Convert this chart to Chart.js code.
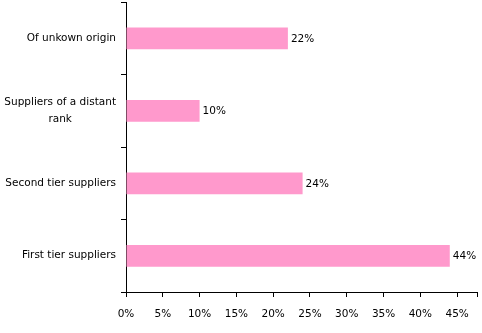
<!DOCTYPE html>
<html>
<head>
<meta charset="utf-8">
<script src="https://cdn.jsdelivr.net/npm/chart.js@4/dist/chart.umd.min.js"></script>
<style>
html,body{margin:0;padding:0;background:#fff;}
#wrap{width:482px;height:333px;}
</style>
</head>
<body>
<div id="wrap"><canvas id="c" width="482" height="333"></canvas></div>
<script>
const categories = [["Of unkown origin"], ["Suppliers of a distant", "rank"], ["Second tier suppliers"], ["First tier suppliers"]];
const values = [22, 10, 24, 44];
const xTickValues = [0, 5, 10, 15, 20, 25, 30, 35, 40, 45];
const xMax = 47.7;

const FONT = '10.5px "DejaVu Sans"';

const catLabelPlugin = {
  id: 'catLabels',
  afterDraw(chart) {
    const ctx = chart.ctx;
    const ys = chart.scales.y;
    ctx.save();
    ctx.font = FONT;
    ctx.fillStyle = '#000';
    ctx.textBaseline = 'middle';
    ctx.textAlign = 'center';
    const right = ys.right - 10;
    const lh = 17;
    categories.forEach((lines, i) => {
      const y = ys.getPixelForTick(i);
      const maxW = Math.max(...lines.map(l => ctx.measureText(l).width));
      const cx = right - maxW / 2;
      const y0 = y - (lines.length - 1) * lh / 2;
      lines.forEach((l, j) => ctx.fillText(l, cx, y0 + j * lh));
    });
    const meta = chart.getDatasetMeta(0);
    ctx.textAlign = 'left';
    meta.data.forEach((bar, i) => {
      ctx.fillText(values[i] + '%', bar.x + 3, bar.y + 1);
    });
    ctx.restore();
  }
};

new Chart(document.getElementById('c'), {
  type: 'bar',
  data: {
    labels: categories,
    datasets: [{
      data: values,
      backgroundColor: '#FF99CC',
      borderWidth: 0,
      barPercentage: 0.3,
      categoryPercentage: 1
    }]
  },
  options: {
    indexAxis: 'y',
    responsive: false,
    animation: false,
    devicePixelRatio: 1,
    layout: { padding: { top: 2, right: 5, left: 0, bottom: 0 } },
    plugins: { legend: { display: false }, tooltip: { enabled: false } },
    scales: {
      y: {
        type: 'category',
        offset: true,
        border: { color: '#000', width: 1 },
        grid: { display: true, drawOnChartArea: false, drawTicks: true, tickLength: 5, offset: true, color: '#000' },
        ticks: { display: false },
        afterFit(s) { s.width = 126; }
      },
      x: {
        min: 0,
        max: xMax,
        border: { color: '#000', width: 1 },
        grid: { display: true, drawOnChartArea: false, drawTicks: true, tickLength: 5, color: '#000' },
        afterBuildTicks(s) {
          s.ticks = xTickValues.map(v => ({ value: v })).concat([{ value: xMax }]);
        },
        ticks: {
          padding: 11,
          maxRotation: 0,
          autoSkip: false,
          color: '#000',
          font: { family: 'DejaVu Sans', size: 10.5 },
          callback: (v) => (xTickValues.includes(v) ? v + '%' : '')
        },
        afterFit(s) { s.height = 41; s.paddingLeft = 0; s.paddingRight = 0; }
      }
    }
  },
  plugins: [catLabelPlugin]
});
</script>
</body>
</html>
